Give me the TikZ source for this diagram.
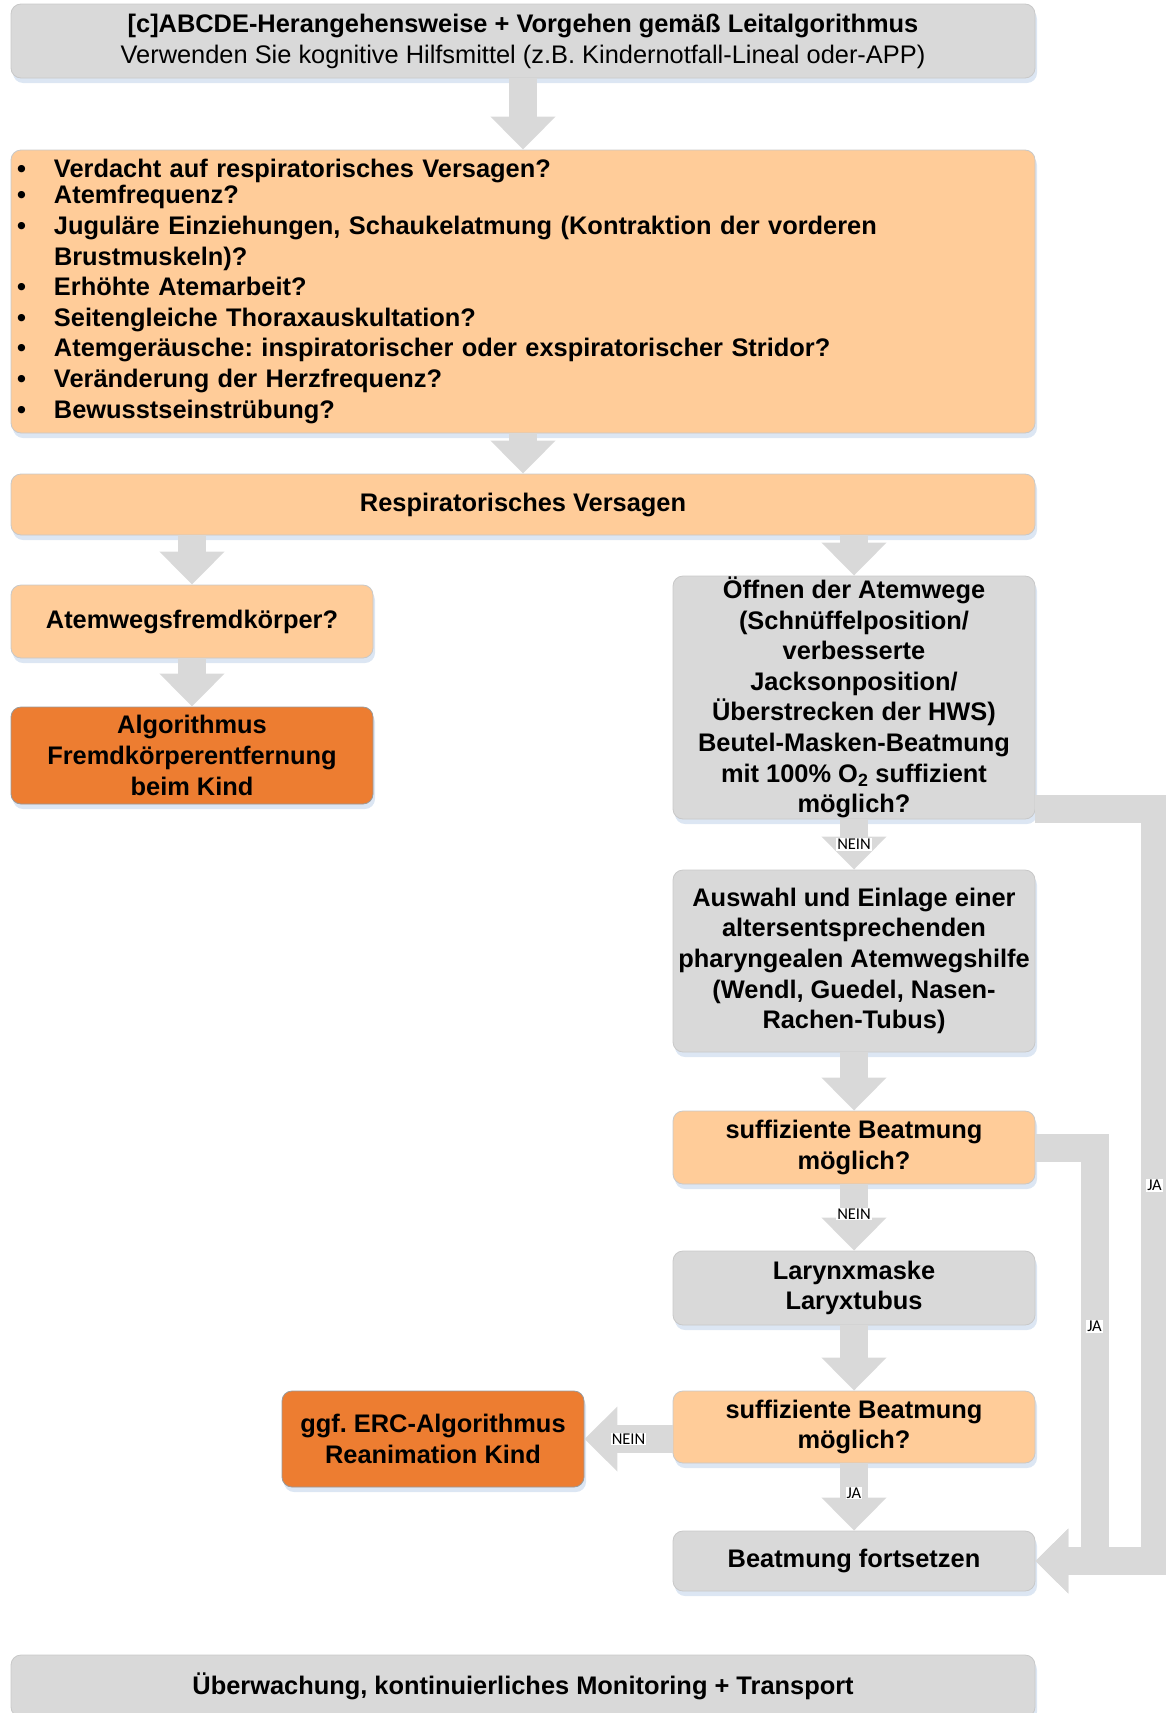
\documentclass[tikz,border=0pt]{standalone}
\usepackage{fontspec}
\setmainfont{Liberation Sans}
\newfontfamily\carlito{Carlito}
\usetikzlibrary{shadows,arrows.meta,calc}
\definecolor{boxgrey}{HTML}{D9D9D9}
\definecolor{lightorange}{HTML}{FFCC99}
\definecolor{darkorange}{HTML}{ED7D31}
\definecolor{arrowgrey}{HTML}{D9D9D9}
\definecolor{shadowblue}{HTML}{DCE6F3}
\definecolor{boxline}{HTML}{C8C8C8}
\newcommand\bl{\makebox[37pt][l]{•}}
\frenchspacing
\begin{document}
\begin{tikzpicture}[x=1pt,y=-1pt,
  base/.style={rounded corners=10pt, draw=boxline, line width=0.8pt, align=center,
    inner sep=0pt, font=\bfseries\fontsize{25.4}{30.6}\selectfont,
    drop shadow={shadow xshift=2pt,shadow yshift=-5pt,fill=shadowblue,opacity=1}},
  greybox/.style={base, fill=boxgrey},
  orangebox/.style={base, fill=lightorange},
  darkbox/.style={base, fill=darkorange, draw=black!40},
  widebox/.style={minimum width=1024pt},
  narrowbox/.style={minimum width=362pt},
  blockarrow/.style={draw=arrowgrey, line width=28pt, line join=miter,
    -{Triangle[width=63pt,length=33pt]}},
  lbl/.style={fill=white, inner sep=1pt, text=black,
    font=\carlito\fontsize{16.5}{16.5}\selectfont}]
\useasboundingbox (0,0) rectangle (1165,1713);

% boxes
\node[greybox, widebox, minimum height=74pt] (b1) at (523,41)
  {[c]ABCDE-Herangehensweise + Vorgehen gemäß Leitalgorithmus\\[0.4pt]
   {\mdseries Verwenden Sie kognitive Hilfsmittel (z.B. Kindernotfall-Lineal oder-APP)}};

\node[orangebox, widebox, minimum height=283pt, align=left, text width=1012pt, inner xsep=6pt] (b2) at (523,291.5)
  {\bl Verdacht auf respiratorisches Versagen?\\[-4.5pt]
   \bl Atemfrequenz?\\
   \bl Juguläre Einziehungen, Schaukelatmung (Kontraktion der vorderen\\
   \hspace*{37pt}Brustmuskeln)?\\
   \bl Erhöhte Atemarbeit?\\
   \bl Seitengleiche Thoraxauskultation?\\
   \bl Atemgeräusche: inspiratorischer oder exspiratorischer Stridor?\\
   \bl Veränderung der Herzfrequenz?\\
   \bl Bewusstseinstrübung?};

\node[orangebox, widebox, minimum height=61pt] (b3) at (523,504.5) {Respiratorisches Versagen};

\node[orangebox, narrowbox, minimum height=73pt] (b4) at (192,621.5) {Atemwegsfremdkörper?};

\node[darkbox, narrowbox, minimum height=97pt] (b5) at (192,755.5)
  {Algorithmus\\Fremdkörperentfernung\\beim Kind};

\node[greybox, narrowbox, minimum height=243pt] (b6) at (854,697.5)
  {Öffnen der Atemwege\\(Schnüffelposition/\\verbesserte\\Jacksonposition/\\Überstrecken der HWS)\\Beutel-Masken-Beatmung\\mit 100\% O\textsubscript{2} suffizient\\möglich?};

\node[greybox, narrowbox, minimum height=182pt] (b7) at (854,961)
  {Auswahl und Einlage einer\\altersentsprechenden\\pharyngealen Atemwegshilfe\\(Wendl, Guedel, Nasen-\\Rachen-Tubus)};

\node[orangebox, narrowbox, minimum height=73pt] (b8) at (854,1147.5)
  {suffiziente Beatmung\\möglich?};

\node[greybox, narrowbox, minimum height=74pt] (b9) at (854,1288)
  {Larynxmaske\\Laryxtubus};

\node[orangebox, narrowbox, minimum height=72pt] (b10) at (854,1427)
  {suffiziente Beatmung\\möglich?};

\node[darkbox, minimum width=302pt, minimum height=96pt] (b11) at (433,1439)
  {ggf. ERC-Algorithmus\\Reanimation Kind};

\node[greybox, narrowbox, minimum height=60pt] (b12) at (854,1561) {Beatmung fortsetzen};

\node[greybox, widebox, minimum height=62pt] (b13) at (523,1686)
  {Überwachung, kontinuierliches Monitoring + Transport};

% straight arrows
\draw[blockarrow] (b1.south) -- (b2.north);
\draw[blockarrow] (b2.south) -- (b3.north);
\draw[blockarrow] (b4.north |- b3.south) -- (b4.north);
\draw[blockarrow] (b6.north |- b3.south) -- (b6.north);
\draw[blockarrow] (b4.south) -- (b5.north);
\draw[blockarrow] (b6.south) -- node[lbl, pos=0.5] {NEIN} (b7.north);
\draw[blockarrow] (b7.south) -- (b8.north);
\draw[blockarrow] (b8.south) -- node[lbl, pos=0.45] {NEIN} (b9.north);
\draw[blockarrow] (b9.south) -- (b10.north);
\draw[blockarrow] (b10.west |- b11.east) -- node[lbl, pos=0.5] {NEIN} (b11.east);
\draw[blockarrow] (b10.south) -- node[lbl, pos=0.44] {JA} (b12.north);

% elbow connectors
\path (b6.south east) ++(0,-10) coordinate (c6);
\coordinate (xout) at (1154.5,0);
\coordinate (xin) at (1094.5,0);
\draw[blockarrow] (c6) -| node[lbl, pos=0.75] {JA} (xout |- b12.east) -- (b12.east);
\draw[blockarrow] (b8.east) -| node[lbl, pos=0.716] {JA} (xin |- b12.east) -- (b12.east);
\end{tikzpicture}
\end{document}
